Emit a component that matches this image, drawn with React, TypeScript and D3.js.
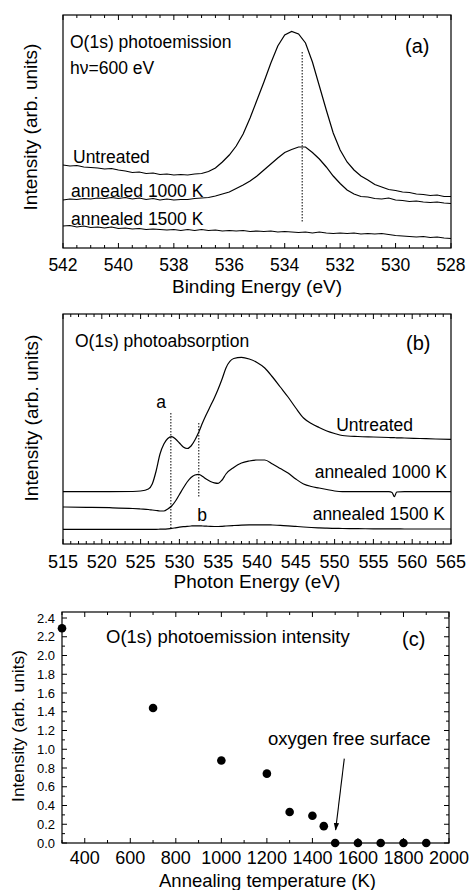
import React from 'react';
import * as d3 from 'd3';

const FONT = "'Liberation Sans', Arial, Helvetica, sans-serif";

// (a) O(1s) photoemission, binding energy (eV)
const bindingEnergy = [
  542, 541.75, 541.5, 541.25, 541, 540.75, 540.5, 540.25, 540, 539.75, 539.5, 539.25, 539,
  538.75, 538.5, 538.25, 538, 537.75, 537.5, 537.25, 537, 536.75, 536.5, 536.25, 536,
  535.75, 535.5, 535.25, 535, 534.75, 534.5, 534.25, 534, 533.75, 533.5, 533.25, 533,
  532.75, 532.5, 532.25, 532, 531.75, 531.5, 531.25, 531, 530.75, 530.5, 530.25, 530,
  529.75, 529.5, 529.25, 529, 528.75, 528.5, 528.25, 528,
];
const peUntreated = [
  83, 82, 82.5, 81, 80.5, 80, 79, 79.5, 78, 77, 75.5, 76, 74.5,
  75, 73.5, 74, 73, 73.5, 73, 74, 74.5, 76.5, 80, 86, 93,
  102, 114, 130, 148, 166, 185, 202, 213, 216.5, 214, 205, 186,
  162, 138, 115, 98, 86, 78, 72, 68, 63.5, 61, 58.5, 57.5,
  56, 55.5, 54, 53.5, 52.5, 53, 51.5, 51.5,
];
const pe1000K = [
  48, 49, 48.5, 49.5, 49, 50, 49.5, 50.5, 49.5, 50.5, 49, 50, 48.5,
  49.5, 48, 49, 48, 48.5, 48.5, 49.5, 50, 50.5, 52, 54, 56,
  59.5, 63, 67, 72, 78, 84, 90, 95.5, 98.5, 101, 101, 95.5,
  89, 81, 72, 64.5, 58, 54, 51.5, 51, 49.5, 49, 50, 48,
  47.5, 46.5, 47, 46, 45.5, 46, 45, 44.5,
];
const pe1500K = [
  22, 22.5, 21, 22, 20.5, 21, 20, 21, 19.5, 20, 19, 19.5, 18.5,
  19, 18.5, 18, 18.5, 17.5, 18.5, 17.5, 18.5, 17.5, 18, 17, 17.5,
  17, 17.5, 16.5, 17, 16.5, 17, 16, 16.5, 16, 15.5, 16, 15,
  16, 15, 14.5, 15, 14.5, 15, 14, 14.5, 14, 14.5, 13.5, 12.5,
  12, 11.5, 11, 11.5, 10.5, 11, 10, 9.5,
];
const peMarker = { energy: 533.37, from: 196, to: 26 };
const aTicks = [542, 540, 538, 536, 534, 532, 530, 528];

// (b) O(1s) photoabsorption, photon energy (eV)
const photonEnergy = [
  515, 518, 521, 524, 525, 526,
  526.5, 527, 527.5, 528, 528.5, 529, 529.5, 530, 530.5, 531, 531.5, 532, 532.5, 533,
  533.5, 534, 534.5, 535, 535.5, 536,
  537, 538, 539, 540, 541, 542, 543, 544, 545, 546, 547, 548, 549, 550, 551,
  553, 555, 557, 557.4, 557.7, 558, 559, 561, 563, 565,
];
const xasUntreated = [
  52.3, 52.3, 52.3, 52.5, 53, 55,
  60, 73, 90, 100, 105.5, 107.3, 105, 101, 97, 95.5, 98, 104, 112, 121.5,
  130, 138, 146, 155, 165, 176,
  185.5, 186.7, 185, 181.5, 176, 167, 157, 147, 136, 126, 120.5, 116.5, 113, 110.5, 108.5,
  107.5, 107, 106.5, 106.4, 106.3, 106.2, 106, 105.5, 105, 104.7,
];
const xas1000K = [
  37, 36.7, 36.3, 35.5, 35, 34.5,
  34, 33.5, 33, 33, 35, 38, 43, 49.5, 56, 62, 66.5, 69, 69.7, 67.5,
  64.7, 62.5, 61.2, 60.7, 64, 70,
  76.5, 81, 83, 84, 84, 80, 75.5, 71, 65, 60, 57.5, 56, 54.5, 53, 52.3,
  52.3, 52.3, 52.3, 51.5, 47.3, 52, 52.3, 52.3, 52.3, 52.3,
];
const xas1500K = [
  14.7, 14.7, 14.7, 14.7, 14.7, 14.7,
  14.7, 14.7, 14.8, 14.9, 15.2, 15.6, 16.2, 16.8, 17.3, 17.7, 18, 18.2, 18.2, 18,
  17.8, 17.6, 17.5, 17.5, 17.7, 18,
  18.5, 18.9, 19.1, 19.2, 19.2, 19, 18.7, 18.2, 17.6, 17, 16.5, 16.1, 15.8, 15.6, 15.5,
  15.3, 15.2, 15.1, 15.1, 15.1, 15.1, 15, 15, 15, 15,
];
const xasMarkers = [
  { energy: 528.9, from: 131, to: 14.7 },
  { energy: 532.5, from: 121, to: 47.3 },
];
const bTicks = [515, 520, 525, 530, 535, 540, 545, 550, 555, 560, 565];

// (c) O(1s) photoemission intensity vs annealing temperature
const annealTemp = [300, 700, 1000, 1200, 1300, 1400, 1450, 1500, 1600, 1700, 1800, 1900];
const oxygenIntensity = [2.29, 1.44, 0.88, 0.74, 0.33, 0.29, 0.18, 0, 0, 0, 0, 0];
const cXTicks = [400, 600, 800, 1000, 1200, 1400, 1600, 1800, 2000];
const cYTicks = [0, 0.2, 0.4, 0.6, 0.8, 1.0, 1.2, 1.4, 1.6, 1.8, 2.0, 2.2, 2.4];

const txt = (size: number) => ({ fontFamily: FONT, fontSize: size, fill: '#000' });

function XTicks({ scale, major, minor, top, bottom }: any) {
  const all = [
    ...major.map((v: number) => ({ v, len: 5 })),
    ...minor.map((v: number) => ({ v, len: 3 })),
  ];
  return (
    <g stroke="#000" strokeWidth={1}>
      {all.map((t, i) => (
        <g key={i}>
          <line x1={scale(t.v)} x2={scale(t.v)} y1={bottom} y2={bottom - t.len} />
          <line x1={scale(t.v)} x2={scale(t.v)} y1={top} y2={top + t.len} />
        </g>
      ))}
    </g>
  );
}

export default function App() {
  // ----- panel (a)
  const A = { left: 63, right: 451, top: 15, bottom: 248 };
  const xa = d3.scaleLinear().domain([542, 528]).range([A.left, A.right]);
  const ya = d3.scaleLinear().domain([0, 233]).range([A.bottom, A.top]);
  const lineA = (vals: number[]) =>
    d3.line<number>()
      .x((_, i) => xa(bindingEnergy[i]))
      .y((d) => ya(d))(vals) as string;
  const aMinor = d3.range(528, 542.01, 0.5).filter((v) => !aTicks.includes(v));

  // ----- panel (b)
  const B = { left: 63, right: 451, top: 314, bottom: 544 };
  const xb = d3.scaleLinear().domain([515, 565]).range([B.left, B.right]);
  const yb = d3.scaleLinear().domain([0, 230]).range([B.bottom, B.top]);
  const lineB = (vals: number[]) =>
    d3.line<number>()
      .x((_, i) => xb(photonEnergy[i]))
      .y((d) => yb(d))
      .curve(d3.curveMonotoneX)(vals) as string;
  const bMinor = d3.range(515, 565.01, 1).filter((v) => !bTicks.includes(v));

  // ----- panel (c)
  const C = { left: 62, right: 449, top: 612, bottom: 843 };
  const xc = d3.scaleLinear().domain([300, 2000]).range([C.left, C.right]);
  const yc = d3.scaleLinear().domain([0, 2.4]).range([C.bottom, 618]);
  const cXMinor = d3.range(300, 2000, 100).filter((v) => !cXTicks.includes(v));
  const cYMinor = d3.range(0.1, 2.4, 0.2);

  const frame = (p: any) => (
    <rect x={p.left} y={p.top} width={p.right - p.left} height={p.bottom - p.top}
      fill="none" stroke="#000" strokeWidth={1.2} />
  );

  return (
    <svg width={469} height={890} style={{ position: 'absolute', left: 0, top: 0, background: '#fff' }}>
      <defs>
        <marker id="arrow" viewBox="0 0 10 10" refX="9" refY="5" markerWidth="7" markerHeight="9" orient="auto">
          <path d="M0,1.5 L10,5 L0,8.5 Z" fill="#000" />
        </marker>
      </defs>

      {/* ---------- (a) ---------- */}
      {frame(A)}
      <XTicks scale={xa} major={aTicks} minor={aMinor} top={A.top} bottom={A.bottom} />
      <g fill="none" stroke="#000" strokeWidth={1.2}>
        <path d={lineA(peUntreated)} />
        <path d={lineA(pe1000K)} />
        <path d={lineA(pe1500K)} />
      </g>
      <line x1={xa(peMarker.energy)} x2={xa(peMarker.energy)} y1={ya(peMarker.from)} y2={ya(peMarker.to)}
        stroke="#000" strokeWidth={1} strokeDasharray="1.5,1.5" />
      {aTicks.map((t) => (
        <text key={t} x={xa(t)} y={271} textAnchor="middle" style={txt(17.5)}>{t}</text>
      ))}
      <text x={(A.left + A.right) / 2} y={293} textAnchor="middle" style={txt(19)}>Binding Energy (eV)</text>
      <text transform="translate(37,127) rotate(-90)" textAnchor="middle" style={txt(19)}>Intensity (arb. units)</text>
      <text x={70} y={48} style={txt(17.5)}>O(1s) photoemission</text>
      <text x={70} y={74} style={txt(17.5)}>hν=600 eV</text>
      <text x={405} y={53} style={txt(20)}>(a)</text>
      <text x={73} y={163} style={txt(17.5)}>Untreated</text>
      <text x={71} y={197} style={txt(17.5)}>annealed 1000 K</text>
      <text x={71} y={225} style={txt(17.5)}>annealed 1500 K</text>

      {/* ---------- (b) ---------- */}
      {frame(B)}
      <XTicks scale={xb} major={bTicks} minor={bMinor} top={B.top} bottom={B.bottom} />
      <g fill="none" stroke="#000" strokeWidth={1.2}>
        <path d={lineB(xasUntreated)} />
        <path d={lineB(xas1000K)} />
        <path d={lineB(xas1500K)} />
      </g>
      {xasMarkers.map((m, i) => (
        <line key={i} x1={xb(m.energy)} x2={xb(m.energy)} y1={yb(m.from)} y2={yb(m.to)}
          stroke="#000" strokeWidth={1} strokeDasharray="1.5,1.5" />
      ))}
      {bTicks.map((t) => (
        <text key={t} x={xb(t)} y={568} textAnchor="middle" style={txt(18)}>{t}</text>
      ))}
      <text x={(B.left + B.right) / 2} y={588} textAnchor="middle" style={txt(19)}>Photon Energy (eV)</text>
      <text transform="translate(38,418) rotate(-90)" textAnchor="middle" style={txt(19)}>Intensity (arb. units)</text>
      <text x={75} y={347} style={txt(17.5)}>O(1s) photoabsorption</text>
      <text x={406} y={350} style={txt(20)}>(b)</text>
      <text x={161} y={408} textAnchor="middle" style={txt(17.5)}>a</text>
      <text x={202} y={521} textAnchor="middle" style={txt(17.5)}>b</text>
      <text x={413} y={431} textAnchor="end" style={txt(17.5)}>Untreated</text>
      <text x={447} y={478} textAnchor="end" style={txt(17.5)}>annealed 1000 K</text>
      <text x={445} y={520} textAnchor="end" style={txt(17.5)}>annealed 1500 K</text>

      {/* ---------- (c) ---------- */}
      {frame(C)}
      <XTicks scale={xc} major={cXTicks} minor={cXMinor} top={C.top} bottom={C.bottom} />
      <g stroke="#000" strokeWidth={1}>
        {cYTicks.map((t) => (
          <g key={t}>
            <line x1={C.left} x2={C.left + 5} y1={yc(t)} y2={yc(t)} />
            <line x1={C.right} x2={C.right - 5} y1={yc(t)} y2={yc(t)} />
          </g>
        ))}
        {cYMinor.map((t, i) => (
          <g key={i}>
            <line x1={C.left} x2={C.left + 3} y1={yc(t)} y2={yc(t)} />
            <line x1={C.right} x2={C.right - 3} y1={yc(t)} y2={yc(t)} />
          </g>
        ))}
      </g>
      {annealTemp.map((t, i) => (
        <circle key={t} cx={xc(t)} cy={yc(oxygenIntensity[i])} r={4.3} fill="#000" />
      ))}
      {cXTicks.map((t) => (
        <text key={t} x={xc(t)} y={864} textAnchor="middle" style={txt(18)}>{t}</text>
      ))}
      {cYTicks.map((t) => (
        <text key={t} x={55} y={yc(t)} dy="0.36em" textAnchor="end" style={txt(13)}>{t.toFixed(1)}</text>
      ))}
      <text x={(C.left + C.right) / 2 + 12} y={887} textAnchor="middle" style={txt(18.5)}>Annealing temperature (K)</text>
      <text transform="translate(24,726) rotate(-90)" textAnchor="middle" style={txt(17.3)}>Intensity (arb. units)</text>
      <text x={106} y={643} style={txt(18.5)}>O(1s) photoemission intensity</text>
      <text x={402} y={646} style={txt(20)}>(c)</text>
      <text x={268} y={745} style={txt(18.5)}>oxygen free surface</text>
      <line x1={xc(1540)} y1={yc(0.9)} x2={xc(1502)} y2={yc(0.14)}
        stroke="#000" strokeWidth={1.1} markerEnd="url(#arrow)" />
    </svg>
  );
}
